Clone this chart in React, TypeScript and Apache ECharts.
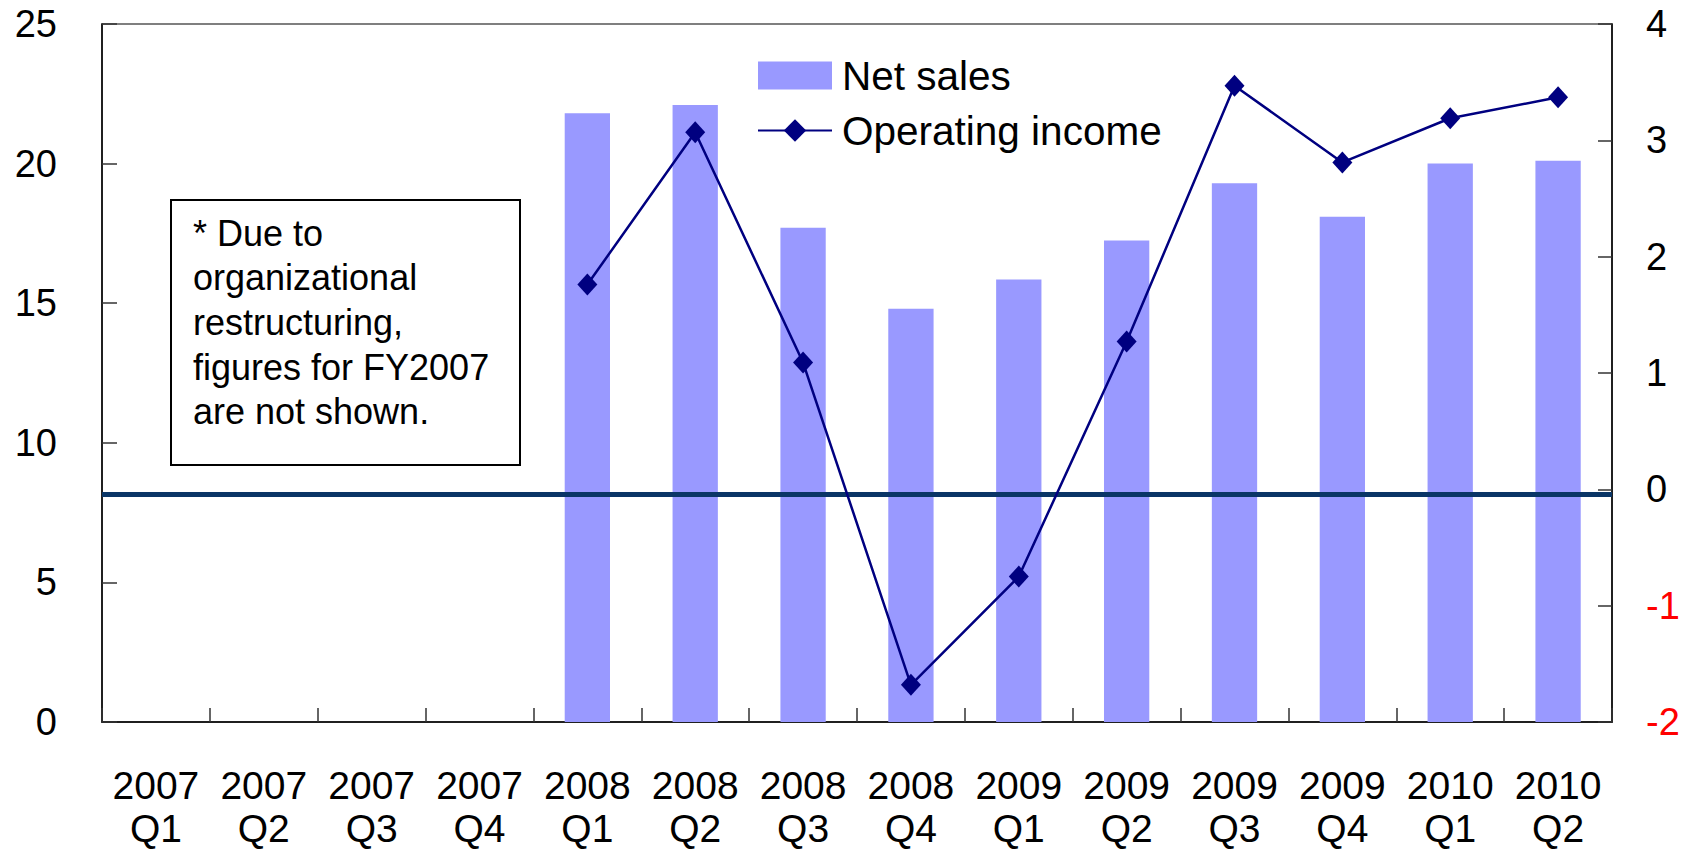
import React, { useEffect, useRef } from "react";
import * as echarts from "echarts";

const categories = [
  "2007 Q1", "2007 Q2", "2007 Q3", "2007 Q4",
  "2008 Q1", "2008 Q2", "2008 Q3", "2008 Q4",
  "2009 Q1", "2009 Q2", "2009 Q3", "2009 Q4",
  "2010 Q1", "2010 Q2",
];
const netSales = [null, null, null, null, 21.8, 22.1, 17.7, 14.8, 15.85, 17.25, 19.3, 18.1, 20.0, 20.1];
const operatingIncome = [null, null, null, null, 1.76, 3.07, 1.09, -1.68, -0.75, 1.27, 3.47, 2.81, 3.19, 3.37];
const leftTicks = { min: 0, max: 25, interval: 5 };
const rightTicks = { min: -2, max: 4, interval: 1 };
const noteLines = [
  "* Due to",
  "organizational",
  "restructuring,",
  "figures for FY2007",
  "are not shown.",
];

const FONT = "'Liberation Sans', Arial, Helvetica, sans-serif";

export default function App() {
  const ref = useRef<HTMLDivElement>(null);
  useEffect(() => {
    if (!ref.current) return;
    const chart = echarts.init(ref.current, undefined, { renderer: "svg" });
    chart.setOption({
      animation: false,
      backgroundColor: "#ffffff",
      textStyle: { fontFamily: FONT },
      grid: {
        left: 102,
        right: 72,
        top: 24,
        bottom: 130,
        containLabel: false,
        outerBoundsMode: "none",
        show: true,
        borderColor: "#555555",
        borderWidth: 1.5,
        backgroundColor: "transparent",
      },
      legend: {
        orient: "vertical",
        left: 757,
        top: 55,
        padding: 0,
        itemWidth: 74,
        itemHeight: 28,
        itemGap: 14,
        textStyle: { fontSize: 40.5, color: "#000", fontFamily: FONT, padding: [0, 0, 0, 5] },
        data: [{ name: "Net sales", icon: "rect" }, { name: "Operating income" }],
      },
      xAxis: {
        type: "category",
        data: categories,
        boundaryGap: true,
        axisLine: { show: true, lineStyle: { color: "#000", width: 1.5 } },
        axisTick: { show: true, inside: true, length: 14, lineStyle: { color: "#333", width: 1.5 } },
        axisLabel: {
          interval: 0,
          margin: 42,
          fontSize: 39,
          lineHeight: 43,
          color: "#000",
          fontFamily: FONT,
          formatter: (v: string) => v.replace(" ", "\n"),
        },
        splitLine: { show: false },
      },
      yAxis: [
        {
          type: "value",
          min: leftTicks.min,
          max: leftTicks.max,
          interval: leftTicks.interval,
          axisLine: { show: true, lineStyle: { color: "#000", width: 1.5 } },
          axisTick: { show: true, inside: true, length: 15, lineStyle: { color: "#333", width: 1.5 } },
          axisLabel: { margin: 45, fontSize: 38, color: "#000", fontFamily: FONT },
          splitLine: { show: false },
        },
        {
          type: "value",
          position: "right",
          min: rightTicks.min,
          max: rightTicks.max,
          interval: rightTicks.interval,
          axisLine: { show: true, lineStyle: { color: "#000", width: 1.5 } },
          axisTick: { show: true, inside: true, length: 14, lineStyle: { color: "#333", width: 1.5 } },
          axisLabel: {
            margin: 34,
            fontSize: 38,
            fontFamily: FONT,
            color: (v: any) => (Number(v) < 0 ? "#ff0000" : "#000000"),
          },
          splitLine: { show: false },
        },
      ],
      series: [
        {
          name: "Net sales",
          type: "bar",
          yAxisIndex: 0,
          data: netSales,
          barWidth: "42%",
          itemStyle: { color: "#9999ff" },
          z: 2,
        },
        {
          name: "Operating income",
          type: "line",
          yAxisIndex: 1,
          data: operatingIncome,
          symbol: "diamond",
          symbolSize: [20, 22],
          connectNulls: false,
          lineStyle: { color: "#000080", width: 2.5 },
          itemStyle: { color: "#000080" },
          z: 4,
          markLine: {
            silent: true,
            symbol: ["none", "none"],
            label: { show: false },
            lineStyle: { color: "#0a3566", width: 5, type: "solid" },
            data: [{ yAxis: -0.045 }],
            z: 3,
          },
        },
      ],
      graphic: [
        {
          type: "group",
          left: 170,
          top: 199,
          children: [
            {
              type: "rect",
              shape: { x: 0, y: 0, width: 349, height: 265 },
              style: { fill: "#ffffff", stroke: "#000000", lineWidth: 2 },
            },
            {
              type: "text",
              x: 22,
              y: 11,
              style: {
                text: noteLines.join("\n"),
                font: `36px ${FONT}`,
                lineHeight: 44.6,
                fill: "#000000",
              },
            },
          ],
        },
      ],
    });
    return () => chart.dispose();
  }, []);
  return <div ref={ref} style={{ position: "absolute", left: 0, top: 0, width: 1684, height: 852 }} />;
}
